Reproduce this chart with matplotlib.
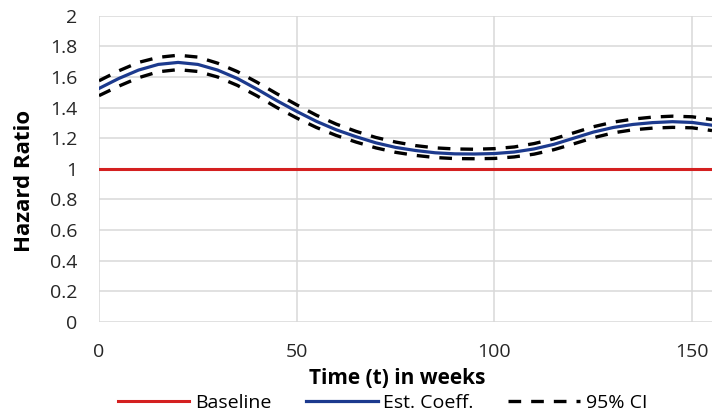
"""Hazard ratio over time: baseline, estimated coefficient and 95% CI."""

import matplotlib.pyplot as plt
from matplotlib.ticker import FuncFormatter

plt.rcParams["font.family"] = ["Open Sans", "DejaVu Sans"]

WEEKS = [0, 5, 10, 15, 20, 25, 30, 35, 40, 45, 50, 55, 60, 65, 70, 75,
         80, 85, 90, 95, 100, 105, 110, 115, 120, 125, 130, 135, 140, 145, 150, 155]
BASELINE = [1.0] * len(WEEKS)
EST_COEFF = [1.525, 1.59, 1.645, 1.682, 1.695, 1.682, 1.645, 1.59, 1.52, 1.445,
             1.375, 1.31, 1.255, 1.21, 1.17, 1.14, 1.12, 1.105, 1.098, 1.097,
             1.10, 1.11, 1.13, 1.16, 1.20, 1.24, 1.27, 1.29, 1.302, 1.308, 1.303, 1.285]
CI_UPPER = [1.575, 1.64, 1.695, 1.728, 1.742, 1.73, 1.69, 1.635, 1.565, 1.49,
            1.418, 1.35, 1.292, 1.245, 1.205, 1.175, 1.152, 1.137, 1.13, 1.128,
            1.132, 1.143, 1.165, 1.196, 1.235, 1.275, 1.305, 1.325, 1.338, 1.344, 1.34, 1.322]
CI_LOWER = [1.478, 1.54, 1.595, 1.634, 1.648, 1.636, 1.60, 1.545, 1.476, 1.40,
            1.332, 1.27, 1.218, 1.175, 1.137, 1.108, 1.088, 1.074, 1.067, 1.066,
            1.068, 1.078, 1.096, 1.125, 1.163, 1.203, 1.235, 1.255, 1.266, 1.271, 1.268, 1.25]
X_TICKS = [0, 50, 100, 150]
Y_TICKS = [0, 0.2, 0.4, 0.6, 0.8, 1, 1.2, 1.4, 1.6, 1.8, 2]

CI_DASHES = (3.8, 3.0)


def main() -> None:
    fig = plt.figure(figsize=(7.12, 4.19), dpi=100)
    ax = fig.add_axes([0.139, 0.2315, 0.861, 0.731])

    ax.plot(WEEKS, BASELINE, color="#d42020", linewidth=2.2, label="Baseline")
    ax.plot(WEEKS, EST_COEFF, color="#1c3a8e", linewidth=2.3, label="Est. Coeff.")
    ax.plot(WEEKS, CI_UPPER, color="black", linewidth=2.4, dashes=CI_DASHES,
            label="95% CI")
    ax.plot(WEEKS, CI_LOWER, color="black", linewidth=2.4, dashes=CI_DASHES)

    ax.set_xlim(0, 155)
    ax.set_ylim(0, 2)
    ax.set_xticks(X_TICKS)
    ax.set_yticks(Y_TICKS)
    ax.yaxis.set_major_formatter(FuncFormatter(lambda v, _: f"{v:g}"))
    ax.grid(True, color="#d9d9d9", linewidth=1.1)
    ax.set_axisbelow(True)
    for spine in ax.spines.values():
        spine.set_visible(False)
    ax.tick_params(length=0, labelsize=14, colors="#262626")
    ax.tick_params(axis="y", pad=15.5)
    ax.tick_params(axis="x", pad=15)

    ax.set_xlabel("Time (t) in weeks", fontsize=15, fontweight="bold")
    ax.xaxis.set_label_coords(0.487, -0.183)
    ax.xaxis.label.set_va("center")
    ax.set_ylabel("Hazard Ratio", fontsize=16, fontweight="bold")
    ax.yaxis.set_label_coords(-0.122, 0.46)
    ax.yaxis.label.set_va("center")

    fig.legend(loc="center", bbox_to_anchor=(0.537, 0.038), ncol=3,
               frameon=False, fontsize=14, handlelength=3.7, columnspacing=1.75,
               handletextpad=0.3, borderaxespad=0, borderpad=0)

    fig.savefig("out.png", dpi=100, facecolor="white")
    plt.close(fig)


if __name__ == "__main__":
    main()
